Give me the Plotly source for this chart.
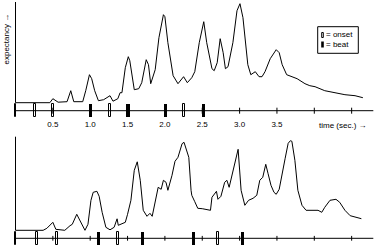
import plotly.graph_objects as go

# ---- data ----
top_t = [0.0, 0.46, 0.50, 0.54, 0.57, 0.69, 0.74, 0.78, 0.90, 0.94, 0.99, 1.02, 1.06, 1.11, 1.18,
         1.265, 1.305, 1.37, 1.40, 1.425, 1.47, 1.51, 1.53, 1.59, 1.65, 1.69, 1.75, 1.78, 1.81,
         1.87, 1.92, 1.98, 2.00, 2.04, 2.11, 2.175, 2.25, 2.30, 2.36, 2.40, 2.46, 2.52, 2.56,
         2.63, 2.66, 2.70, 2.74, 2.78, 2.81, 2.845, 2.91, 2.965, 3.005, 3.045, 3.11, 3.15, 3.21,
         3.26, 3.30, 3.34, 3.41, 3.49, 3.53, 3.57, 3.63, 3.77, 3.875, 3.94, 4.01, 4.14, 4.28,
         4.41, 4.545, 4.65]
top_v = [0, 0, 4, 1.5, 0.5, 1, 12, 1, 1, 12, 28, 24, 12, 2, 3,
         7, 1.5, 4, 10, 10, 35, 46, 42, 13, 14, 20, 43, 38, 19,
         33, 65, 88, 86, 60, 27, 19, 26, 20, 25, 31, 60, 81, 60,
         34, 32, 40, 64, 50, 34, 36, 60, 92, 99, 85, 38, 28, 31,
         26, 26, 31, 44, 53, 50, 38, 28, 24, 19, 17, 16, 12, 10,
         8, 7, 5]

bot_t = [0.0, 0.37, 0.42, 0.50, 0.54, 0.66, 0.73, 0.76, 0.82, 0.86, 0.93, 0.97, 1.01, 1.04, 1.09,
         1.12, 1.16, 1.21, 1.265, 1.32, 1.36, 1.376, 1.41, 1.47, 1.50, 1.545, 1.59, 1.63, 1.67,
         1.71, 1.76, 1.80, 1.83, 1.87, 1.91, 1.95, 1.98, 2.015, 2.04, 2.095, 2.135, 2.175, 2.23,
         2.256, 2.29, 2.32, 2.35, 2.36, 2.40, 2.44, 2.50, 2.55, 2.61, 2.63, 2.67, 2.69, 2.71,
         2.75, 2.80, 2.83, 2.86, 2.88, 2.94, 2.98, 3.02, 3.07, 3.12, 3.18, 3.23, 3.27, 3.31,
         3.35, 3.38, 3.42, 3.46, 3.49, 3.53, 3.57, 3.61, 3.65, 3.68, 3.70, 3.74, 3.78, 3.835,
         3.89, 3.97, 4.05, 4.10, 4.14, 4.21, 4.29, 4.34, 4.41, 4.48, 4.545, 4.63]
bot_v = [0, 0, 2, 8, 1, 0, 4.6, 6, 16, 10, 0, 6, 30, 38, 39,
         34, 18, 3, 0.5, 3, 11.5, 5, 6, 8, 16, 30, 60, 68.5, 50,
         20, 14, 17, 14, 30, 43, 41, 50, 48, 40, 55, 69, 73, 86.6,
         88, 80, 73, 40, 35, 28.6, 22, 21.6, 20.6, 20, 33, 37, 39, 31,
         34, 48, 50, 43, 49, 70, 81, 40, 25, 30, 32, 35, 50, 53,
         66, 57, 45, 38, 36, 41, 58, 72, 87, 89.6, 89, 70, 40, 25,
         20, 20, 20, 18, 23, 30, 31, 28, 20, 14.6, 13.6, 11.6]

top_onsets = [0.0, 0.257, 0.506, 1.265, 2.256]
top_beats = [1.0, 1.506, 2.005, 2.52]
bot_onsets = [0.0, 0.284, 0.56, 1.376, 2.715]
bot_beats = [1.114, 1.697, 2.38, 3.04]

tick_vals = [0.5, 1.0, 1.5, 2.0, 2.5, 3.0, 3.5, 4.0, 4.5]
tick_labels = ["0.5", "1.0", "1.5", "2.0", "2.5", "3.0", "3.5"]

FONT = "Liberation Sans"
fig = go.Figure()

def panel(t, v, onsets, beats, yref, axis_v, rect_lo, rect_hi, tick_half, ytop):
    # curve
    fig.add_trace(go.Scatter(x=t, y=v, mode="lines", yaxis=yref,
                             line=dict(color="black", width=1), hoverinfo="skip"))
    # vertical (expectancy) axis
    fig.add_trace(go.Scatter(x=[0, 0], y=[0, ytop], mode="lines", yaxis=yref,
                             line=dict(color="black", width=1), hoverinfo="skip"))
    # time axis line
    fig.add_trace(go.Scatter(x=[0, 4.79], y=[axis_v, axis_v], mode="lines", yaxis=yref,
                             line=dict(color="black", width=1), hoverinfo="skip"))
    # tick marks
    for tv in tick_vals:
        fig.add_trace(go.Scatter(x=[tv, tv], y=[axis_v - tick_half, axis_v + tick_half],
                                 mode="lines", yaxis=yref,
                                 line=dict(color="black", width=1), hoverinfo="skip"))
    # onset (open) and beat (filled) markers
    fig.add_trace(go.Bar(x=onsets, y=[rect_hi - rect_lo] * len(onsets), base=rect_lo,
                         width=0.026, yaxis=yref,
                         marker=dict(color="white", line=dict(color="black", width=1))))
    fig.add_trace(go.Bar(x=beats, y=[rect_hi - rect_lo] * len(beats), base=rect_lo,
                         width=0.042, yaxis=yref,
                         marker=dict(color="black", line=dict(color="black", width=0))))

panel(top_t, top_v, top_onsets, top_beats, "y", -8.0, -14.0, -1.6, 3.0, 100.7)
panel(bot_t, bot_v, bot_onsets, bot_beats, "y2", -8.0, -14.7, -2.0, 2.4, 93.6)

# tick labels on top panel
fig.add_trace(go.Scatter(x=tick_vals[:len(tick_labels)], y=[-22.3] * len(tick_labels),
                         text=tick_labels, mode="text", yaxis="y",
                         textfont=dict(family=FONT, size=8, color="black"), hoverinfo="skip"))

fig.add_annotation(x=4.38, y=-22.3, xref="x", yref="y", text="time (sec.) →",
                   showarrow=False, font=dict(family=FONT, size=8, color="black"))
fig.add_annotation(x=6.5, y=210, xref="paper", yref="paper", text="expectancy →",
                   textangle=-90, showarrow=False, xanchor="center", yanchor="middle",
                   font=dict(family=FONT, size=8, color="black"))

# legend box (pixel positions via paper coords)
W, H = 384, 249
def px(x):
    return x / W
def py(y):
    return 1 - y / H

fig.add_shape(type="rect", xref="paper", yref="paper",
              x0=px(317.7), x1=px(358.3), y0=py(53.3), y1=py(26.7),
              line=dict(color="black", width=1), fillcolor="white")
fig.add_shape(type="rect", xref="paper", yref="paper",
              x0=px(321.7), x1=px(323.3), y0=py(37.5), y1=py(32.5),
              line=dict(color="black", width=1), fillcolor="white")
fig.add_shape(type="rect", xref="paper", yref="paper",
              x0=px(321.2), x1=px(323.8), y0=py(47.5), y1=py(41.5),
              line=dict(color="black", width=0), fillcolor="black")
fig.add_annotation(x=px(324), y=py(35), xref="paper", yref="paper", text="= onset",
                   showarrow=False, xanchor="left", yanchor="middle",
                   font=dict(family=FONT, size=8, color="black"))
fig.add_annotation(x=px(324), y=py(44.5), xref="paper", yref="paper", text="= beat",
                   showarrow=False, xanchor="left", yanchor="middle",
                   font=dict(family=FONT, size=8, color="black"))

fig.update_layout(
    width=W, height=H, margin=dict(l=0, r=0, t=0, b=0),
    paper_bgcolor="white", plot_bgcolor="white",
    showlegend=False, barmode="overlay", bargap=0,
    xaxis=dict(range=[-0.2075, 4.933], visible=False, domain=[0, 1]),
    yaxis=dict(range=[-146.3, 102.7], visible=False, domain=[0, 1]),
    yaxis2=dict(range=[-18.7, 230.3], visible=False, overlaying="y"),
)
# paper annotation for y label uses pixel coords
fig.layout.annotations[1].x = px(6.5)
fig.layout.annotations[1].y = py(39)

fig.write_html("out.html")
